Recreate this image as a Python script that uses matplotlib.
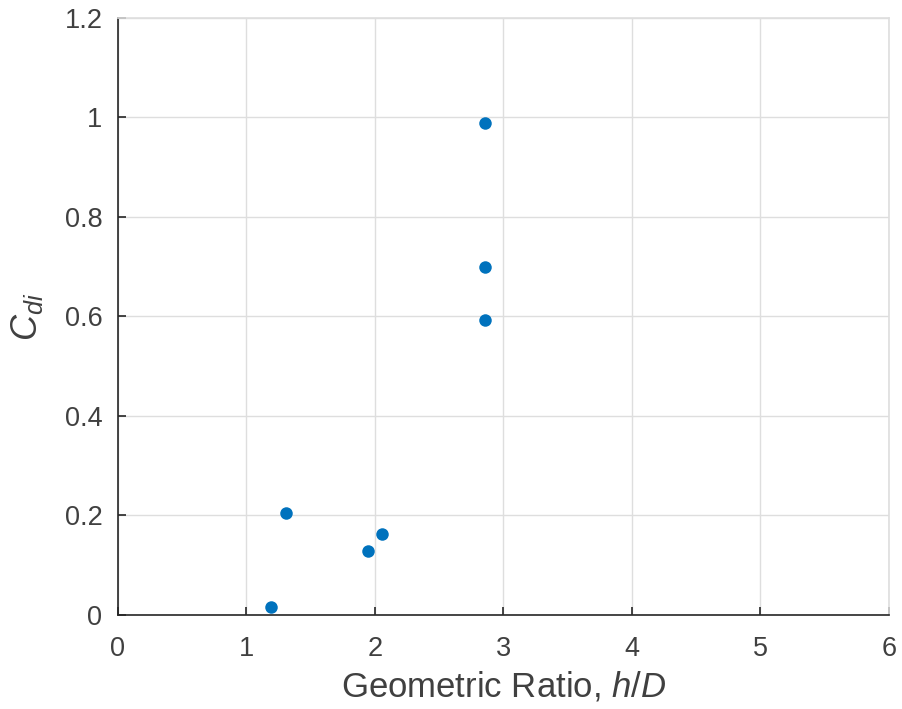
import matplotlib
matplotlib.use('Agg')
import matplotlib.pyplot as plt

# drag coefficient vs geometric ratio
ratio = [1.195, 1.306, 1.945, 2.058, 2.855, 2.855, 2.855]
cdi = [0.015, 0.204, 0.128, 0.162, 0.988, 0.700, 0.593]

x_ticks = [0, 1, 2, 3, 4, 5, 6]
y_ticks = [0, 0.2, 0.4, 0.6, 0.8, 1, 1.2]
y_tick_labels = ['0', '0.2', '0.4', '0.6', '0.8', '1', '1.2']

plt.rcParams['font.family'] = 'Liberation Sans'
plt.rcParams['mathtext.fontset'] = 'custom'
plt.rcParams['mathtext.rm'] = 'Liberation Sans'
plt.rcParams['mathtext.it'] = 'Liberation Sans:italic'

txt = '#404040'
axc = '#262626'

fig = plt.figure(figsize=(9.02, 7.09), dpi=100)
ax = fig.add_axes([0.1305, 0.133, 0.8551, 0.8416])

ax.plot(ratio, cdi, 'o', color='#0072BD', markersize=9, markeredgewidth=0)

ax.set_xlim(0, 6)
ax.set_ylim(0, 1.2)
ax.set_xticks(x_ticks)
ax.set_yticks(y_ticks)
ax.set_yticklabels(y_tick_labels)
ax.grid(True, color='#dedede', linewidth=1)
ax.set_axisbelow(True)

ax.tick_params(direction='in', length=6, width=1.2, colors=axc,
               labelcolor=txt, labelsize=19.5)
ax.tick_params(axis='x', pad=15)
ax.tick_params(axis='y', pad=11)
for side in ['left', 'bottom']:
    ax.spines[side].set_color(axc)
    ax.spines[side].set_linewidth(1.2)
for side in ['top', 'right']:
    ax.spines[side].set_color('#dedede')
    ax.spines[side].set_linewidth(1.2)

ax.set_xlabel('Geometric Ratio, $h/D$', fontsize=25, color=txt, labelpad=6)
ax.set_ylabel('$C_{di}$', fontsize=26, color=txt, labelpad=14)

fig.savefig('out.png', dpi=100)
